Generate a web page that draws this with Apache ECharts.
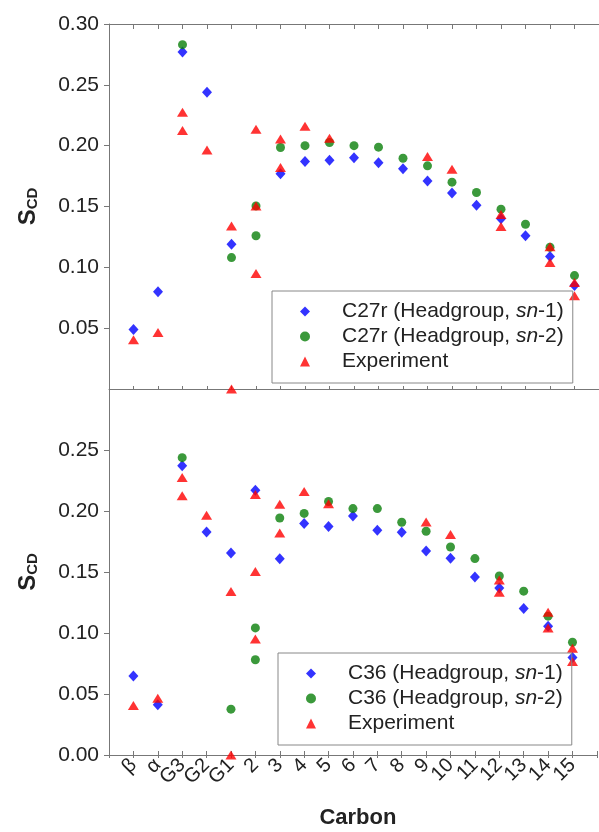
<!DOCTYPE html>
<html>
<head>
<meta charset="utf-8">
<script src="https://cdn.jsdelivr.net/npm/echarts@6/dist/echarts.min.js"></script>
<style>
  html, body { margin: 0; padding: 0; background: #fff; }
  #chart { width: 599px; height: 832px; }
</style>
</head>
<body>
<div id="chart"></div>
<script>
// carbon positions along the x axis
const carbons = ["β", "α", "G3", "G2", "G1", "2", "3", "4", "5", "6", "7", "8", "9", "10", "11", "12", "13", "14", "15"];

// top panel: C27r
const c27Sn1 = [0.049, 0.080, 0.277, 0.244, 0.119, null, 0.177, 0.187, 0.188, 0.190, 0.186, 0.181, 0.171, 0.161, 0.151, 0.140, 0.126, 0.109, 0.085];
const c27Sn2 = [null, null, 0.283, null, 0.108, 0.1505, 0.1985, 0.200, 0.2026, 0.200, 0.1988, 0.1897, 0.1834, 0.170, 0.1615, 0.1478, 0.1354, 0.1165, 0.0932];
const c27Sn2b = [null, null, null, null, null, 0.126, null, null, null, null, null, null, null, null, null, null, null, null, null];

// bottom panel: C36
const c36Sn1 = [0.0647, 0.0411, 0.2371, 0.1828, 0.1656, 0.2171, 0.1609, 0.1897, 0.1872, 0.196, 0.1842, 0.1826, 0.1672, 0.1612, 0.1458, 0.1368, 0.120, 0.1055, 0.080];
const c36Sn2 = [null, null, 0.2437, null, 0.0376, 0.1042, 0.1943, 0.198, 0.2078, 0.202, 0.202, 0.1908, 0.1834, 0.1705, 0.161, 0.1467, 0.1343, 0.1138, 0.0924];
const c36Sn2b = [null, null, null, null, null, 0.0781, null, null, null, null, null, null, null, null, null, null, null, null, null];

// experiment (same in both panels)
const exp1 = [0.0405, 0.0465, 0.2275, 0.1965, 0.134, 0.2135, 0.2055, 0.216, 0.206, null, null, null, 0.191, 0.1807, null, 0.1435, null, 0.117, 0.0875];
const exp2 = [null, null, 0.2125, null, 0.000, 0.1505, 0.182, null, null, null, null, null, null, null, null, 0.1335, null, 0.104, 0.0766];
const exp3 = [null, null, null, null, null, 0.095, null, null, null, null, null, null, null, null, null, null, null, null, null];

function pairs(...lists) {
  const out = [];
  lists.forEach((arr) => {
    arr.forEach((v, i) => {
      if (v != null) out.push([i + 1, v]);
    });
  });
  return out;
}

const FONT = "'Liberation Sans', Arial, sans-serif";
const LINE = "#777";
const TEXT = "#222";

function xAx(grid, pos, tickLen, extra) {
  return Object.assign({
    type: "value",
    gridIndex: grid,
    position: pos,
    min: 0,
    max: 20,
    interval: 1,
    axisLine: { show: true, lineStyle: { color: LINE, width: 1 } },
    axisTick: { show: true, inside: true, length: tickLen, lineStyle: { color: LINE } },
    axisLabel: { show: false },
    splitLine: { show: false }
  }, extra || {});
}

function yAx(grid, top) {
  return {
    type: "value",
    gridIndex: grid,
    min: 0,
    max: 0.3,
    interval: 0.05,
    name: "{s|S}{sub|CD}",
    nameLocation: "middle",
    nameGap: 66,
    nameTextStyle: {
      rich: {
        s: { fontSize: 24, fontWeight: "bold", fontFamily: FONT, color: TEXT, lineHeight: 24, padding: [0, 0, 7, 0], verticalAlign: "top" },
        sub: { fontSize: 15, fontWeight: "bold", fontFamily: FONT, color: TEXT, lineHeight: 15, verticalAlign: "bottom" }
      }
    },
    axisLine: { show: true, lineStyle: { color: LINE, width: 1 } },
    axisTick: { show: true, length: 5, lineStyle: { color: LINE } },
    axisLabel: {
      fontSize: 21,
      fontFamily: FONT,
      color: TEXT,
      margin: 10,
      showMinLabel: !top,
      showMaxLabel: top,
      formatter: (v) => v.toFixed(2)
    },
    splitLine: { show: false }
  };
}

function legend(names, left, top) {
  return {
    data: names,
    orient: "vertical",
    left: left,
    top: top,
    itemWidth: 10,
    itemHeight: 10,
    itemGap: 4,
    padding: [10, 9, 11, 28],
    borderColor: "#888",
    borderWidth: 1,
    borderRadius: 0,
    textStyle: {
      fontSize: 21,
      lineHeight: 21,
      fontFamily: FONT,
      color: TEXT,
      padding: [0, 0, 0, 27],
      rich: { i: { fontStyle: "italic", fontSize: 21, lineHeight: 21, fontFamily: FONT, color: TEXT } }
    },
    formatter: (name) => name.replace("sn-", "{i|sn}-")
  };
}

const blue = { symbol: "diamond", symbolSize: [10, 11], itemStyle: { color: "#0000ff" } };
const green = { symbol: "circle", symbolSize: 9, itemStyle: { color: "#0a800a" } };
const red = { symbol: "triangle", symbolSize: [11, 9], itemStyle: { color: "#ff0000" } };

function scatter(name, style, xi, yi, data) {
  return Object.assign({
    name: name,
    type: "scatter",
    xAxisIndex: xi,
    yAxisIndex: yi,
    clip: false,
    data: data
  }, style);
}

const option = {
  backgroundColor: "#fff",
  animation: false,
  grid: [
    { left: 109, top: 24, height: 365, right: -8 },
    { left: 109, top: 389, height: 366, right: -8 }
  ],
  legend: [
    legend(["C27r (Headgroup, sn-1)", "C27r (Headgroup, sn-2)", "Experiment"], 272, 291),
    legend(["C36 (Headgroup, sn-1)", "C36 (Headgroup, sn-2)", "Experiment"], 278, 653)
  ],
  xAxis: [
    xAx(0, "bottom", 3),
    xAx(0, "top", 5),
    xAx(1, "top", 3),
    xAx(1, "bottom", 4, {
      name: "Carbon",
      nameLocation: "middle",
      nameGap: 52,
      nameTextStyle: { fontSize: 22, fontWeight: "bold", fontFamily: FONT, color: TEXT, padding: [0, 0, 0, 10] },
      axisLabel: {
        show: true,
        rotate: 45,
        fontSize: 20,
        fontFamily: FONT,
        color: TEXT,
        margin: 7,
        formatter: (v) => carbons[v - 1] || ""
      }
    })
  ],
  yAxis: [yAx(0, true), yAx(1, false)],
  series: [
    scatter("C27r (Headgroup, sn-1)", blue, 0, 0, pairs(c27Sn1)),
    scatter("C27r (Headgroup, sn-2)", green, 0, 0, pairs(c27Sn2, c27Sn2b)),
    scatter("Experiment", red, 0, 0, pairs(exp1, exp2, exp3)),
    scatter("C36 (Headgroup, sn-1)", blue, 3, 1, pairs(c36Sn1)),
    scatter("C36 (Headgroup, sn-2)", green, 3, 1, pairs(c36Sn2, c36Sn2b)),
    scatter("Experiment", red, 3, 1, pairs(exp1, exp2, exp3))
  ]
};

const chart = echarts.init(document.getElementById("chart"), null, { renderer: "canvas" });
chart.setOption(option);
</script>
</body>
</html>
